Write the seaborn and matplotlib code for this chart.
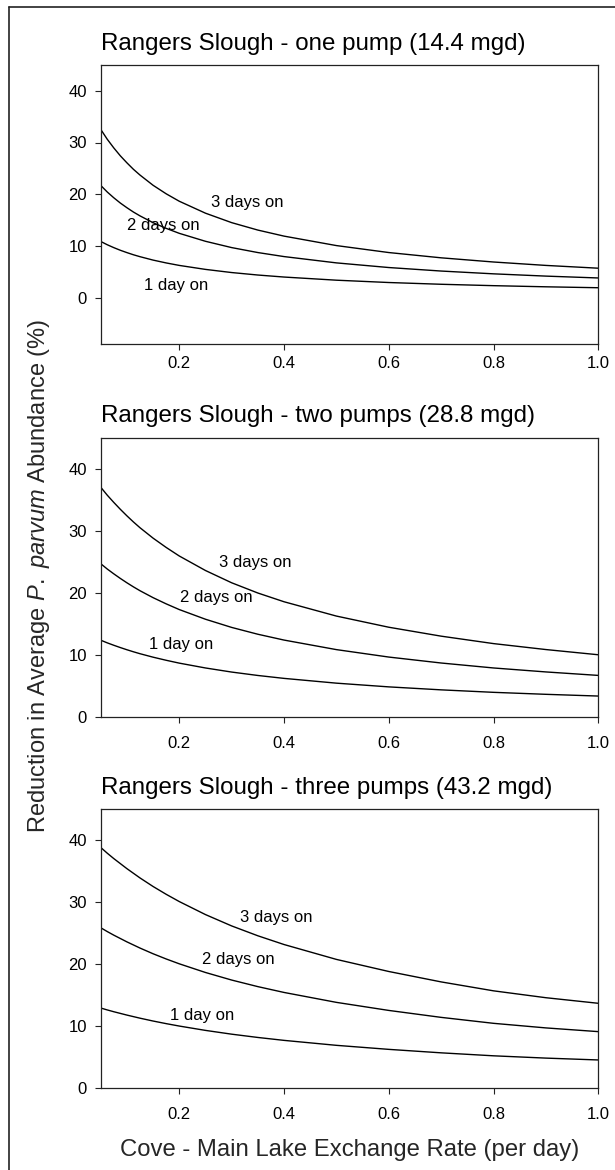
import matplotlib
matplotlib.use("Agg")
import matplotlib.pyplot as plt
import pandas as pd
import seaborn as sns
from matplotlib.lines import Line2D

# ---------------- data ----------------
exchange_rate = [0.05, 0.0625, 0.075, 0.0875, 0.1, 0.1125, 0.125, 0.15, 0.175, 0.2,
                 0.25, 0.3, 0.35, 0.4, 0.5, 0.6, 0.7, 0.8, 0.9, 1.0]

one_pump_1day = [10.85, 10.21, 9.65, 9.14, 8.69, 8.27, 7.90, 7.24, 6.69, 6.21,
                 5.44, 4.83, 4.35, 3.96, 3.35, 2.90, 2.56, 2.29, 2.07, 1.89]
one_pump_2day = [21.7, 20.42, 19.3, 18.28, 17.38, 16.54, 15.8, 14.48, 13.38, 12.42,
                 10.88, 9.66, 8.7, 7.92, 6.7, 5.8, 5.12, 4.58, 4.14, 3.78]
one_pump_3day = [32.55, 30.63, 28.95, 27.42, 26.07, 24.81, 23.7, 21.72, 20.07, 18.63,
                 16.32, 14.49, 13.05, 11.88, 10.05, 8.7, 7.68, 6.87, 6.21, 5.67]

two_pump_1day = [12.34, 11.91, 11.52, 11.15, 10.80, 10.47, 10.16, 9.60, 9.10, 8.64,
                 7.86, 7.20, 6.65, 6.18, 5.41, 4.81, 4.33, 3.93, 3.61, 3.33]
two_pump_2day = [24.68, 23.82, 23.04, 22.3, 21.6, 20.94, 20.32, 19.2, 18.2, 17.28,
                 15.72, 14.4, 13.3, 12.36, 10.82, 9.62, 8.66, 7.86, 7.22, 6.66]
two_pump_3day = [37.02, 35.73, 34.56, 33.45, 32.4, 31.41, 30.48, 28.8, 27.3, 25.92,
                 23.58, 21.6, 19.95, 18.54, 16.23, 14.43, 12.99, 11.79, 10.83, 9.99]

three_pump_1day = [12.95, 12.64, 12.35, 12.08, 11.81, 11.56, 11.31, 10.85, 10.43, 10.04,
                   9.34, 8.73, 8.20, 7.73, 6.93, 6.28, 5.72, 5.24, 4.87, 4.57]
three_pump_2day = [25.9, 25.28, 24.7, 24.16, 23.62, 23.12, 22.62, 21.7, 20.86, 20.08,
                   18.68, 17.46, 16.4, 15.46, 13.86, 12.56, 11.44, 10.48, 9.74, 9.14]
three_pump_3day = [38.85, 37.92, 37.05, 36.24, 35.43, 34.68, 33.93, 32.55, 31.29, 30.12,
                   28.02, 26.19, 24.6, 23.19, 20.79, 18.84, 17.16, 15.72, 14.61, 13.71]

series_names = ["1 day on", "2 days on", "3 days on"]
panel_titles = ["Rangers Slough - one pump (14.4 mgd)",
                "Rangers Slough - two pumps (28.8 mgd)",
                "Rangers Slough - three pumps (43.2 mgd)"]
x_ticks = [0.2, 0.4, 0.6, 0.8, 1.0]
x_tick_labels = ["0.2", "0.4", "0.6", "0.8", "1.0"]
y_ticks = [0, 10, 20, 30, 40]
x_label = "Cove - Main Lake Exchange Rate (per day)"
y_label = "Reduction in Average $\\it{P.\\ parvum}$ Abundance (%)"

# ---------------- style ----------------
sns.set_theme(style="ticks")
plt.rcParams["font.family"] = ["Liberation Sans", "DejaVu Sans"]
plt.rcParams["mathtext.fontset"] = "custom"
plt.rcParams["mathtext.rm"] = "Liberation Sans"
plt.rcParams["mathtext.it"] = "Liberation Sans:italic"

W, H = 615, 1170
fig = plt.figure(figsize=(W / 100, H / 100), dpi=100)

ax_left = 100.7 / W
ax_width = (598.3 - 100.7) / W
ax_height = 279.0 / H

panels = [
    dict(bottom=1 - 344.0 / H, ylim=(-9, 45), data=[one_pump_1day, one_pump_2day, one_pump_3day],
         labels=[(0.133, 2.3), (0.100, 13.9), (0.260, 18.4)], xpad=4.8),
    dict(bottom=1 - 716.7 / H, ylim=(0, 45), data=[two_pump_1day, two_pump_2day, two_pump_3day],
         labels=[(0.143, 11.65), (0.201, 19.2), (0.275, 24.9)], xpad=9.6),
    dict(bottom=1 - 1088.3 / H, ylim=(0, 45), data=[three_pump_1day, three_pump_2day, three_pump_3day],
         labels=[(0.183, 11.7), (0.243, 20.7), (0.316, 27.5)], xpad=9.6),
]

for title, p in zip(panel_titles, panels):
    ax = fig.add_axes([ax_left, p["bottom"], ax_width, ax_height])
    rows = []
    for name, vals in zip(series_names, p["data"]):
        for xv, yv in zip(exchange_rate, vals):
            rows.append({"rate": xv, "reduction": yv, "series": name})
    df = pd.DataFrame(rows)
    sns.lineplot(data=df, x="rate", y="reduction", hue="series",
                 palette=["black"] * 3, estimator=None, legend=False,
                 linewidth=1.0, ax=ax)
    ax.set_xlim(0.05, 1.0)
    ax.set_ylim(*p["ylim"])
    ax.set_xticks(x_ticks)
    ax.set_xticklabels(x_tick_labels)
    ax.set_yticks(y_ticks)
    ax.set_xlabel("")
    ax.set_ylabel("")
    for s in ax.spines.values():
        s.set_visible(True)
        s.set_color("#222222")
        s.set_linewidth(0.9)
    ax.tick_params(direction="out", length=4, width=0.8, labelsize=12,
                   color="#222222", labelcolor="black")
    ax.tick_params(axis="y", pad=6)
    ax.tick_params(axis="x", pad=p["xpad"])
    ax.set_title(title, loc="left", fontsize=17.4, pad=11, color="black")
    for name, (tx, ty) in zip(series_names, p["labels"]):
        ax.text(tx, ty, name, fontsize=12, ha="left", va="center", color="black")

fig.text(349.5 / W, 1 - 1150.0 / H, x_label, fontsize=17.2, ha="center", va="center")
fig.text(39.0 / W, 1 - 575.5 / H, y_label, fontsize=17, rotation=90,
         ha="center", va="center")

# outer frame (left and top edges visible in the reference)
fx = 9.0 / W
fy = 1 - 7.0 / H
fig.add_artist(Line2D([fx, fx], [0, fy], transform=fig.transFigure, color="#222222", lw=1.2))
fig.add_artist(Line2D([fx, 1], [fy, fy], transform=fig.transFigure, color="#222222", lw=1.2))

fig.savefig("out.png", dpi=100)
